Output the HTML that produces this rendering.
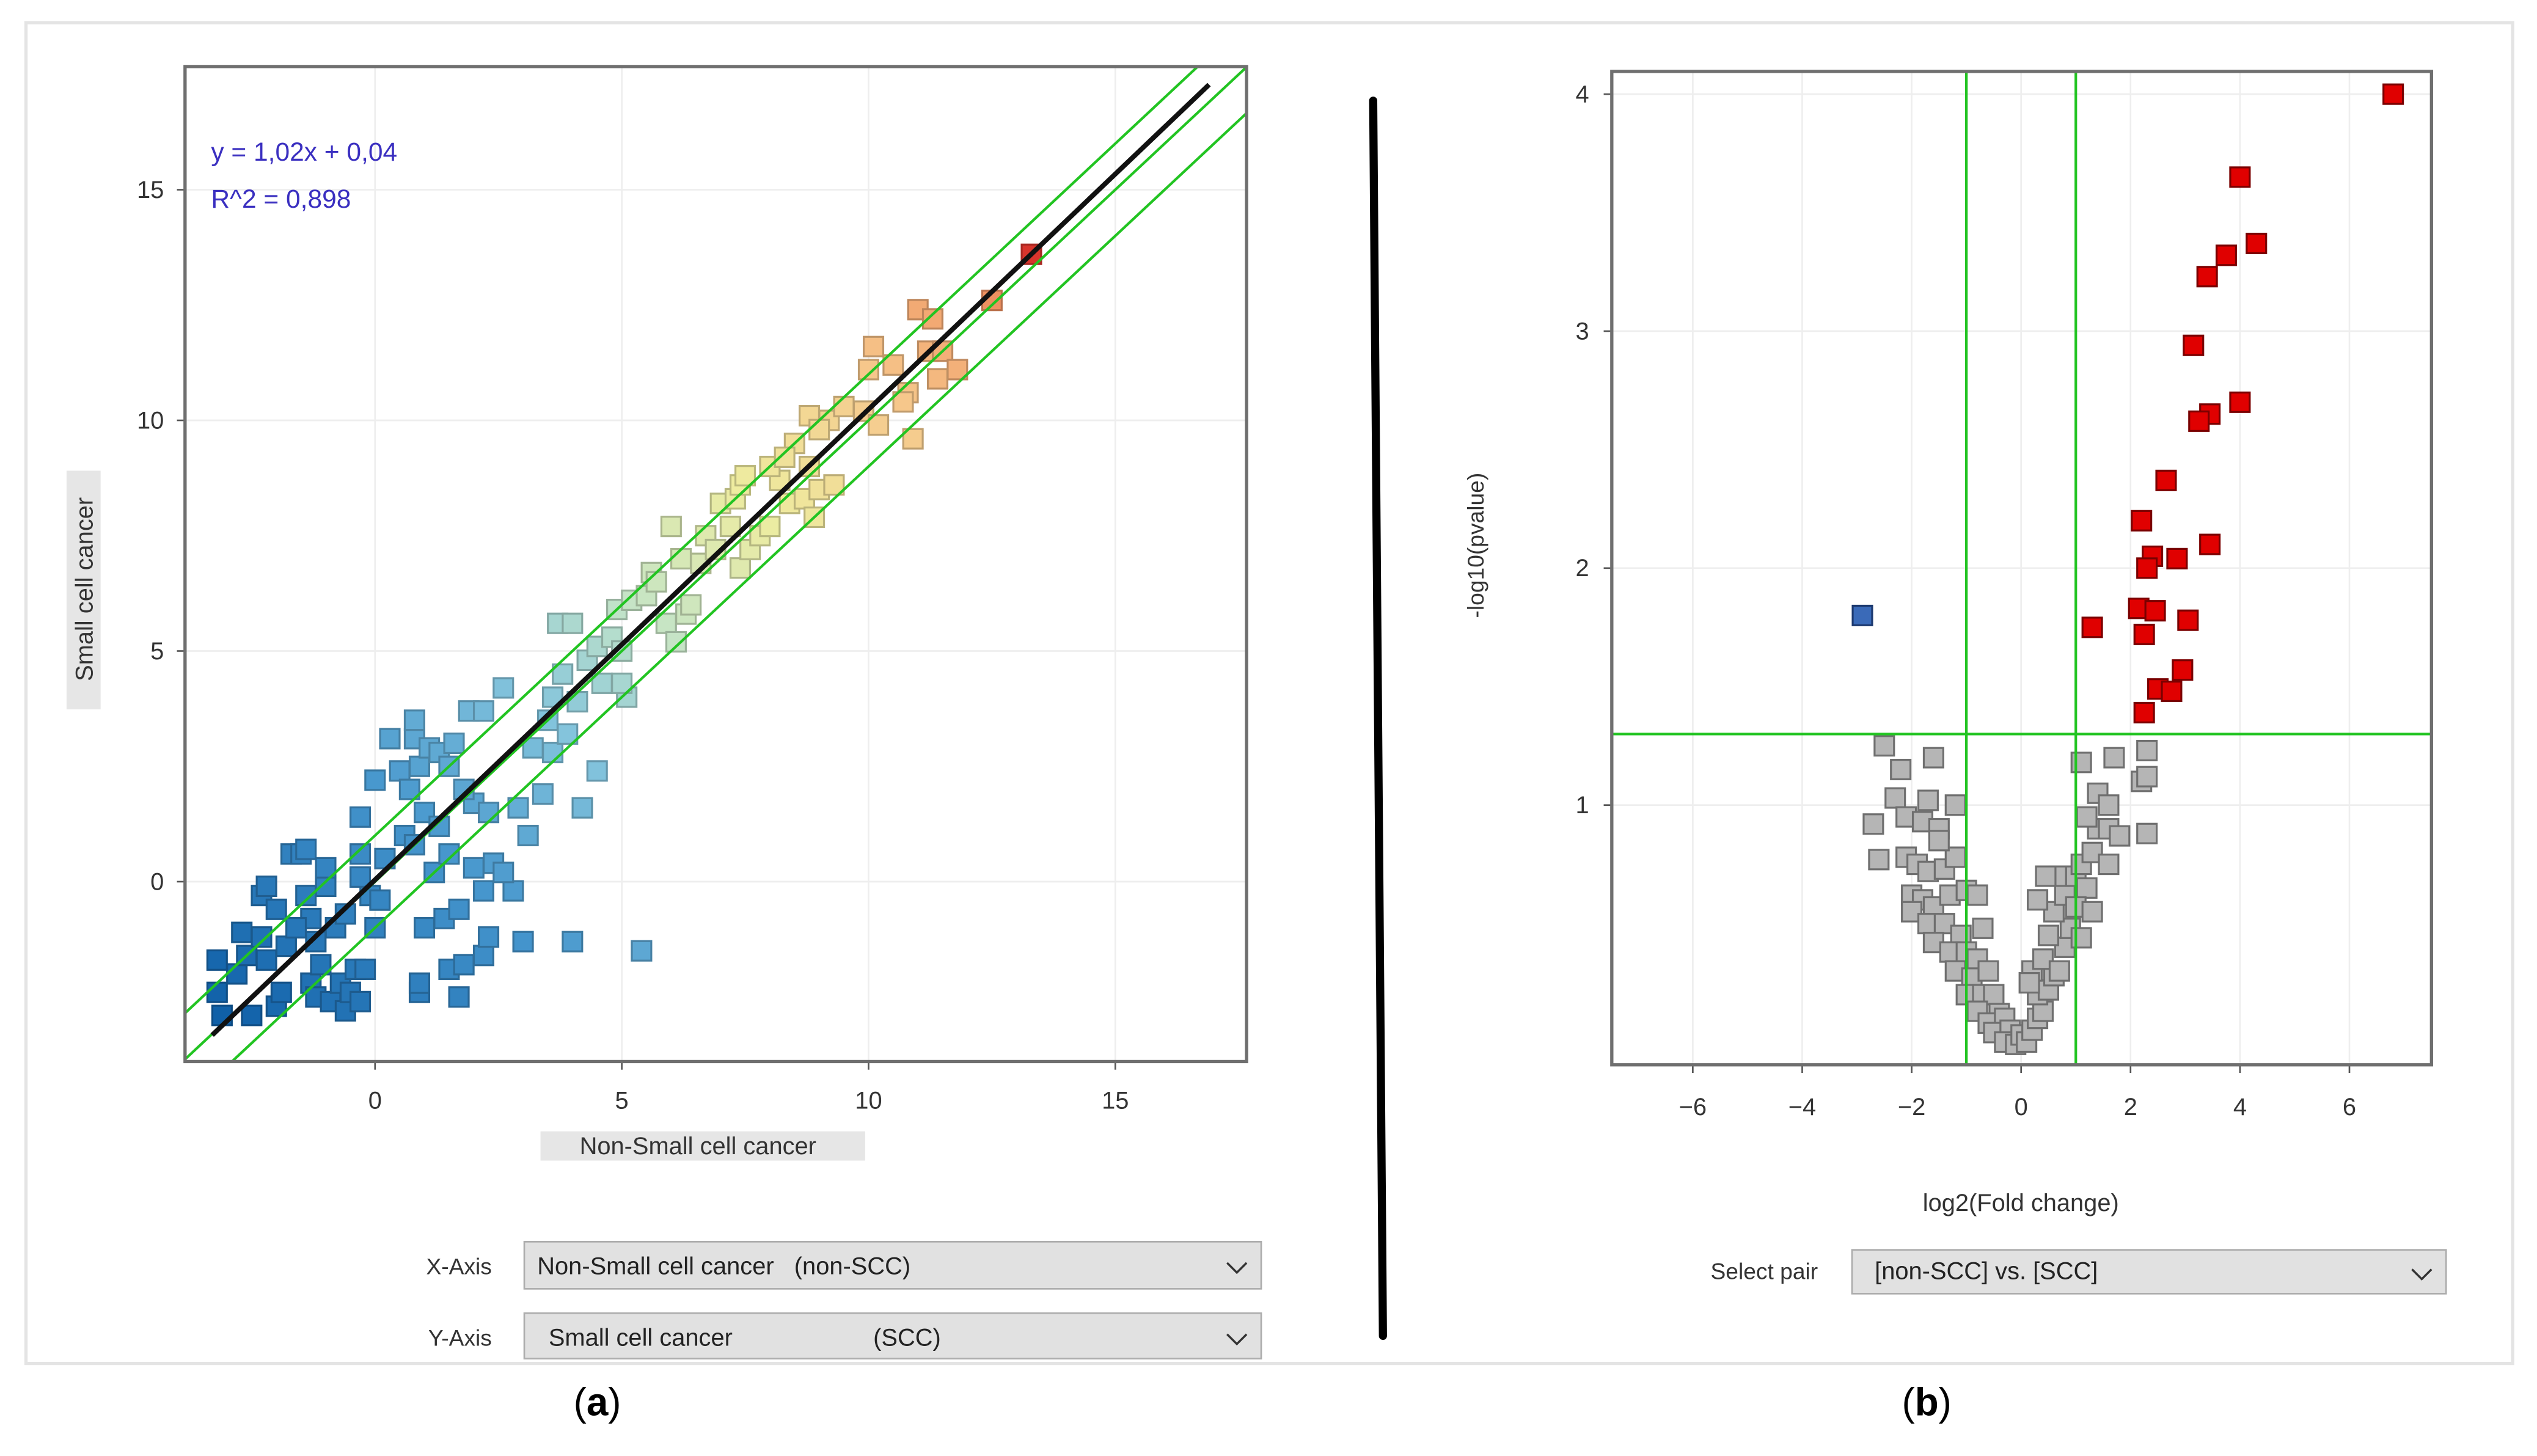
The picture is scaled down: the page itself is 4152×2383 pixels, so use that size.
<!DOCTYPE html>
<html><head><meta charset="utf-8"><style>
html,body{margin:0;padding:0;background:#fff}
svg{display:block}
text{font-family:"Liberation Sans","DejaVu Sans",sans-serif}
</style></head><body>
<svg id="s" width="4152" height="2383" viewBox="0 0 1563 897" preserveAspectRatio="none" xmlns="http://www.w3.org/2000/svg">
<rect x="0" y="0" width="1563" height="897" fill="#fff"/>
<rect x="16" y="14" width="1532" height="826" fill="none" stroke="#e4e4e4" stroke-width="2"/>
<line x1="846" y1="62" x2="852" y2="823" stroke="#000" stroke-width="5" stroke-linecap="round"/>
<g id="left"></g>
<g id="right"></g>
<text x="130" y="99" font-size="16" fill="#3a2fc0">y = 1,02x + 0,04</text>
<text x="130" y="128" font-size="16" fill="#3a2fc0">R^2 = 0,898</text>
<rect x="41" y="290" width="21" height="147" fill="#e6e6e6"/>
<text transform="translate(57,363) rotate(-90)" text-anchor="middle" font-size="15" fill="#333">Small cell cancer</text>
<rect x="333" y="697" width="200" height="18" fill="#e6e6e6"/>
<text x="430" y="711" text-anchor="middle" font-size="15" fill="#333">Non-Small cell cancer</text>
<text transform="translate(914,336) rotate(-90)" text-anchor="middle" font-size="14" fill="#333">-log10(pvalue)</text>
<text x="1245" y="746" text-anchor="middle" font-size="15" fill="#333">log2(Fold change)</text>
<text x="303" y="785" text-anchor="end" font-size="14" fill="#333">X-Axis</text>
<g><rect x="323" y="765" width="454" height="29" fill="#e1e1e1" stroke="#adadad"/><text x="331" y="785" font-size="15" fill="#222" xml:space="preserve">Non-Small cell cancer   (non-SCC)</text><path d="M756 778 l6 6 l6 -6" fill="none" stroke="#333" stroke-width="1.3"/></g>
<text x="303" y="829" text-anchor="end" font-size="14" fill="#333">Y-Axis</text>
<g><rect x="323" y="809" width="454" height="28" fill="#e1e1e1" stroke="#adadad"/><text x="338" y="829" font-size="15" fill="#222">Small cell cancer</text><text x="538" y="829" font-size="15" fill="#222">(SCC)</text><path d="M756 822 l6 6 l6 -6" fill="none" stroke="#333" stroke-width="1.3"/></g>
<text x="1120" y="788" text-anchor="end" font-size="14" fill="#333">Select pair</text>
<g><rect x="1141" y="770" width="366" height="27" fill="#e1e1e1" stroke="#adadad"/><text x="1155" y="788" font-size="15" fill="#222">[non-SCC] vs. [SCC]</text><path d="M1486 782 l6 6 l6 -6" fill="none" stroke="#333" stroke-width="1.3"/></g>
<text x="368" y="872" text-anchor="middle" font-size="24" font-family="Liberation Serif,serif">(<tspan font-weight="bold">a</tspan>)</text>
<text x="1187" y="872" text-anchor="middle" font-size="24" font-family="Liberation Serif,serif">(<tspan font-weight="bold">b</tspan>)</text>
</svg>
<script>
const scatterX=[-3.2,-3.2,-3.1,-2.8,-2.7,-2.6,-2.5,-2.3,-2.2,-2.3,-2.2,-2.0,-1.9,-1.8,-1.7,-1.5,-1.4,-1.4,-1.3,-1.2,-1.3,-1.2,-1.1,-1.0,-1.0,-0.9,-0.8,-0.7,-0.6,-0.6,-0.5,-0.4,-0.3,-0.2,-0.1,0.1,0.0,-0.3,-0.3,0.2,0.0,-0.3,-2.0,-1.6,
0.3,0.8,0.8,0.5,0.7,0.9,1.1,1.3,1.6,1.9,2.2,2.6,1.5,1.0,1.3,0.6,0.8,1.2,1.4,1.0,1.5,0.9,1.7,1.8,2.2,2.3,0.9,1.7,2.0,2.2,2.0,2.3,2.4,1.5,1.8,
2.8,2.6,3.0,3.1,2.9,3.2,3.4,3.5,3.6,3.7,4.0,3.8,4.1,4.3,4.5,4.5,4.2,3.6,3.9,4.0,4.6,4.8,5.4,
4.9,5.2,5.5,5.6,5.7,5.9,5.0,5.1,5.0,6.0,6.3,6.4,6.2,6.7,6.6,6.1,
6.9,7.0,7.3,7.4,7.5,7.2,7.4,7.6,7.8,8.0,8.2,8.0,8.5,8.3,8.8,8.4,8.7,8.9,9.0,9.2,8.8,9.0,
9.5,9.3,9.9,10.0,10.1,10.5,10.2,10.8,11.2,11.0,11.3,11.5,11.8,10.9,10.7,12.5,11.4,13.3];
const scatterY=[-1.7,-2.4,-2.9,-2.0,-1.1,-1.6,-2.9,-1.2,-1.7,-0.3,-0.1,-2.7,-2.4,-1.4,0.6,0.6,0.7,-0.3,-0.8,-1.3,-2.2,-2.5,-1.8,-0.1,0.3,-2.6,-1.0,-2.2,-0.7,-2.8,-2.4,-1.9,-2.6,-1.9,-0.3,-0.4,-1.0,0.6,0.1,0.5,2.2,1.4,-0.6,-1.0,
3.1,3.1,3.5,2.4,2.0,2.5,2.9,2.8,3.0,3.7,3.7,4.2,2.5,1.5,1.2,1.0,0.8,0.2,-0.8,-1.0,-1.9,-2.4,-0.6,-1.8,-1.6,-1.2,-2.2,-2.5,0.3,-0.2,1.7,1.5,0.4,0.6,2.0,
-0.2,0.2,-1.3,1.0,1.6,2.9,1.9,3.5,4.0,5.6,5.6,4.5,3.9,4.8,5.1,2.4,1.6,2.8,3.2,-1.3,4.3,5.3,-1.5,
5.9,6.1,6.2,6.7,6.5,5.6,5.0,4.0,4.3,7.7,5.8,6.0,7.0,7.5,6.9,5.2,
7.2,8.2,8.3,8.6,8.8,7.7,6.8,7.2,7.5,7.7,8.7,9.0,9.5,9.2,9.0,8.2,8.3,7.9,8.5,10.0,10.1,9.8,
10.3,8.6,10.2,11.1,11.6,11.2,9.9,10.6,11.5,12.4,12.2,11.5,11.1,9.6,10.4,12.6,10.9,13.6];
const xTicksA=[0,5,10,15], yTicksA=[0,5,10,15];
const fitSlope=1.02, fitIntercept=0.04, bandOffset=1.0;
const volX=[-2.5,-1.6,-2.2,-2.3,-1.7,-1.2,-2.7,-2.1,-1.8,-1.5,-2.6,-2.1,-1.9,-1.7,-1.4,-1.2,-1.5,-2.0,-1.8,-1.6,-1.3,-1.0,-0.8,-2.0,-1.7,-1.4,-1.1,-1.6,-1.3,-1.0,-0.7,-0.8,-1.2,-0.9,-0.6,-1.0,-0.7,-0.5,-0.8,-0.4,-0.6,-0.3,-0.5,-0.2,-0.3,-0.1,0.0,
0.1,0.2,0.3,0.4,0.3,0.5,0.6,0.2,0.4,0.7,0.8,0.5,0.9,1.1,0.6,0.8,0.7,1.0,1.2,1.1,1.3,1.6,1.4,1.2,1.6,1.8,2.3,1.4,1.6,2.2,2.3,1.1,1.7,2.3,0.3,0.45,0.15,1.0,1.3];
const volY=[1.25,1.2,1.15,1.03,1.02,1.0,0.92,0.95,0.93,0.9,0.77,0.78,0.75,0.72,0.73,0.78,0.85,0.62,0.6,0.57,0.62,0.64,0.62,0.55,0.5,0.5,0.45,0.42,0.38,0.38,0.48,0.35,0.3,0.27,0.3,0.2,0.2,0.2,0.13,0.12,0.08,0.1,0.04,0.05,0.0,-0.01,0.03,
0.0,0.05,0.1,0.13,0.2,0.22,0.28,0.3,0.35,0.3,0.4,0.45,0.48,0.44,0.55,0.62,0.7,0.7,0.65,0.75,0.8,0.75,0.9,0.95,0.9,0.87,0.88,1.05,1.0,1.1,1.12,1.18,1.2,1.23,0.6,0.7,0.25,0.57,0.55];
const upX=[6.8,4.0,4.3,3.75,3.4,3.15,4.0,3.45,3.25,2.65,2.2,3.45,2.4,2.3,2.85,2.15,2.45,3.05,1.3,2.25,2.95,2.5,2.75,2.25];
const upY=[4.0,3.65,3.37,3.32,3.23,2.94,2.7,2.65,2.62,2.37,2.2,2.1,2.05,2.0,2.04,1.83,1.82,1.78,1.75,1.72,1.57,1.49,1.48,1.39];
const downX=[-2.9], downY=[1.8];
const xTicksB=[-6,-4,-2,0,2,4,6], yTicksB=[1,2,3,4];
const fcCut=1, pCut=1.3;

const NS='http://www.w3.org/2000/svg';
function mk(p,t,a){const e=document.createElementNS(NS,t);for(const k in a)e.setAttribute(k,a[k]);p.appendChild(e);return e;}
// panel a
const A={l:114,r:768,t:41,b:654,x0:-3.85,x1:17.66,y0:-3.9,y1:17.67};
const ax=v=>A.l+(v-A.x0)/(A.x1-A.x0)*(A.r-A.l), ay=v=>A.b-(v-A.y0)/(A.y1-A.y0)*(A.b-A.t);
const gA=document.getElementById('left');
const cpA=mk(gA,'clipPath',{id:'ca'});mk(cpA,'rect',{x:A.l,y:A.t,width:A.r-A.l,height:A.b-A.t});
xTicksA.forEach(v=>{const l=mk(gA,'line',{x1:ax(v),x2:ax(v),y1:A.t,y2:A.b,stroke:'#eeeeee'});
 mk(gA,'line',{x1:ax(v),x2:ax(v),y1:A.b,y2:A.b+5,stroke:'#555'});
 const t=mk(gA,'text',{x:ax(v),y:A.b+29,'text-anchor':'middle','font-size':15,fill:'#333'});t.textContent=v;});
yTicksA.forEach(v=>{mk(gA,'line',{x1:A.l,x2:A.r,y1:ay(v),y2:ay(v),stroke:'#eeeeee'});
 mk(gA,'line',{x1:A.l-5,x2:A.l,y1:ay(v),y2:ay(v),stroke:'#555'});
 const t=mk(gA,'text',{x:A.l-13,y:ay(v)+5,'text-anchor':'end','font-size':15,fill:'#333'});t.textContent=v;});
const stops=[[-3,[16,96,168]],[1,[70,150,205]],[3.5,[130,195,220]],[5.5,[195,228,200]],[8,[238,236,160]],[10.5,[246,200,140]],[12.5,[240,150,100]],[13.5,[215,48,42]]];
function col(v){if(v<=stops[0][0])return 'rgb('+stops[0][1]+')';for(let i=1;i<stops.length;i++){if(v<=stops[i][0]){const f=(v-stops[i-1][0])/(stops[i][0]-stops[i-1][0]);const c=stops[i-1][1].map((a,j)=>Math.round(a+(stops[i][1][j]-a)*f));return 'rgb('+c+')';}}return 'rgb('+stops[stops.length-1][1]+')';}
function darker(c){const m=c.match(/\d+/g).map(Number).map(x=>Math.round(x*0.78));return 'rgb('+m+')';}
const gPts=mk(gA,'g',{});
scatterX.forEach((x,i)=>{const y=scatterY[i];const c=col((x+y)/2);const r=mk(gPts,'rect',{x:ax(x)-6,y:ay(y)-6,width:12,height:12,fill:c,stroke:darker(c),'stroke-width':1.2});
 });
const gL=mk(gA,'g',{'clip-path':'url(#ca)'});
[bandOffset,0,-bandOffset].forEach(o=>{const l=mk(gL,'line',{x1:ax(A.x0),y1:ay(A.x0+o),x2:ax(A.x1),y2:ay(A.x1+o),stroke:'#22c422','stroke-width':1.6});});
const fl=mk(gL,'line',{x1:ax(-3.3),y1:ay(fitSlope*-3.3+fitIntercept),x2:ax(16.9),y2:ay(fitSlope*16.9+fitIntercept),stroke:'#111','stroke-width':3});

const fa=mk(gA,'rect',{x:A.l,y:A.t,width:A.r-A.l,height:A.b-A.t,fill:'none',stroke:'#6f6f6f','stroke-width':2});

// panel b
const B={l:993,r:1498,t:44,b:656,x0:-7.48,x1:7.5,y0:-0.096,y1:4.096};
const bx=v=>B.l+(v-B.x0)/(B.x1-B.x0)*(B.r-B.l), by=v=>B.b-(v-B.y0)/(B.y1-B.y0)*(B.b-B.t);
const gB=document.getElementById('right');
xTicksB.forEach(v=>{mk(gB,'line',{x1:bx(v),x2:bx(v),y1:B.t,y2:B.b,stroke:'#eeeeee'});
 mk(gB,'line',{x1:bx(v),x2:bx(v),y1:B.b,y2:B.b+5,stroke:'#555'});
 const t=mk(gB,'text',{x:bx(v),y:B.b+31,'text-anchor':'middle','font-size':15,fill:'#333'});t.textContent=v<0?'\u2212'+(-v):v;});
yTicksB.forEach(v=>{mk(gB,'line',{x1:B.l,x2:B.r,y1:by(v),y2:by(v),stroke:'#eeeeee'});
 mk(gB,'line',{x1:B.l-5,x2:B.l,y1:by(v),y2:by(v),stroke:'#555'});
 const t=mk(gB,'text',{x:B.l-14,y:by(v)+5,'text-anchor':'end','font-size':15,fill:'#333'});t.textContent=v;});
volX.forEach((x,i)=>{const r=mk(gB,'rect',{x:bx(x)-6,y:by(volY[i])-6,width:12,height:12,fill:'#b5b5b5',stroke:'#6f6f6f','stroke-width':1.2});
 });
upX.forEach((x,i)=>{const r=mk(gB,'rect',{x:bx(x)-6,y:by(upY[i])-6,width:12,height:12,fill:'#e00000',stroke:'#7a0000','stroke-width':1.2});
 });
downX.forEach((x,i)=>{const r=mk(gB,'rect',{x:bx(x)-6,y:by(downY[i])-6,width:12,height:12,fill:'#3a6ab8',stroke:'#1d3a70','stroke-width':1.2});
 });
[-fcCut,fcCut].forEach(v=>{const l=mk(gB,'line',{x1:bx(v),x2:bx(v),y1:B.t,y2:B.b,stroke:'#22c422','stroke-width':1.6});});
const hl=mk(gB,'line',{x1:B.l,x2:B.r,y1:by(pCut),y2:by(pCut),stroke:'#22c422','stroke-width':1.6});

const fb=mk(gB,'rect',{x:B.l,y:B.t,width:B.r-B.l,height:B.b-B.t,fill:'none',stroke:'#6f6f6f','stroke-width':2});

</script>
</body></html>
